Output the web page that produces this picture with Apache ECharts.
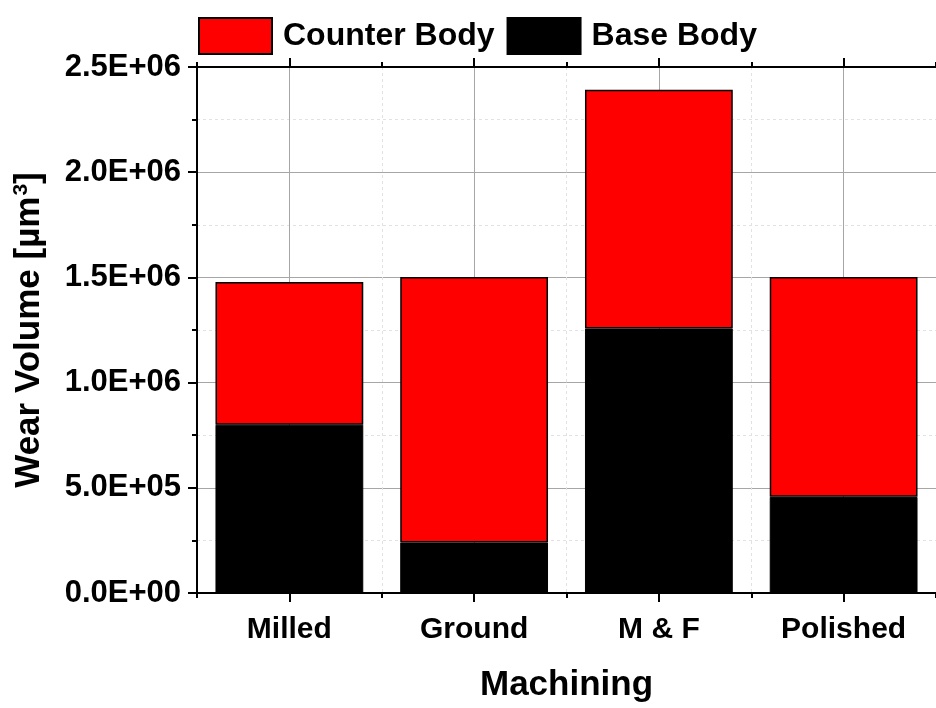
<!DOCTYPE html>
<html>
<head>
<meta charset="utf-8">
<script src="https://cdn.jsdelivr.net/npm/echarts@6/dist/echarts.min.js"></script>
<style>
  html, body { margin: 0; padding: 0; background: #fff; }
  #chart { width: 936px; height: 708px; }
</style>
</head>
<body>
<div id="chart"></div>
<script>
// Wear volume per machining process, split into base body and counter body
const categories = ['Milled', 'Ground', 'M & F', 'Polished'];
const baseBody = [800000, 240000, 1257000, 457000];
const counterBody = [678000, 1262000, 1135000, 1045000];
const yTicks = { min: 0, max: 2500000, step: 500000 };

const FONT = 'Liberation Sans, Arial, sans-serif';
const gridColor = '#a6a6a6';
const minorGridColor = '#e2e2e2';

function sci(v) {
  const [m, e] = v.toExponential(1).split('e');
  const n = parseInt(e, 10);
  const s = n < 0 ? '-' : '+';
  return m + 'E' + s + String(Math.abs(n)).padStart(2, '0');
}

const chart = echarts.init(document.getElementById('chart'));
chart.setOption({
  animation: false,
  backgroundColor: '#fff',
  textStyle: { fontFamily: FONT },
  legend: {
    data: ['Counter Body', 'Base Body'],
    icon: 'rect',
    left: 193,
    top: 12,
    itemWidth: 73,
    itemHeight: 36,
    itemGap: 12,
    textStyle: { fontFamily: FONT, fontWeight: 'bold', fontSize: 32, color: '#000', padding: [0, 0, 0, 6] }
  },
  grid: { left: 197, right: 0, top: 67, bottom: 110, containLabel: false },
  xAxis: [
    {
      type: 'category',
      data: categories,
      position: 'bottom',
      axisLine: { show: true, lineStyle: { color: '#000', width: 2 } },
      axisTick: { show: false },
      splitLine: { show: false },
      axisLabel: { fontFamily: FONT, fontWeight: 'bold', fontSize: 30, color: '#000', margin: 22 },
      name: 'Machining',
      nameLocation: 'middle',
      nameGap: 75,
      nameTextStyle: { fontFamily: FONT, fontWeight: 'bold', fontSize: 35, color: '#000' },
      z: 5
    },
    {
      // grid lines and ticks: boundaries between groups and group centres
      type: 'value',
      min: 0, max: categories.length, interval: 1,
      position: 'bottom',
      axisLine: { show: false },
      axisLabel: { show: false },
      axisTick: { show: true, length: 5, lineStyle: { color: '#000', width: 2 } },
      minorTick: { show: true, splitNumber: 2, length: 9, lineStyle: { color: '#000', width: 2 } },
      splitLine: { show: true, lineStyle: { color: minorGridColor, type: [3, 3], width: 1 } },
      minorSplitLine: { show: true, lineStyle: { color: gridColor, width: 1 } },
      z: 0
    },
    {
      type: 'value',
      min: 0, max: categories.length, interval: 1,
      position: 'top',
      axisLine: { show: true, onZero: false, lineStyle: { color: '#000', width: 2 } },
      axisLabel: { show: false },
      axisTick: { show: true, length: 5, lineStyle: { color: '#000', width: 2 } },
      minorTick: { show: true, splitNumber: 2, length: 9, lineStyle: { color: '#000', width: 2 } },
      splitLine: { show: false },
      z: 5
    }
  ],
  yAxis: {
    type: 'value',
    min: yTicks.min,
    max: yTicks.max,
    interval: yTicks.step,
    axisLine: { show: true, lineStyle: { color: '#000', width: 2 } },
    axisTick: { show: true, length: 9, lineStyle: { color: '#000', width: 2 } },
    minorTick: { show: true, splitNumber: 2, length: 5, lineStyle: { color: '#000', width: 2 } },
    splitLine: { show: true, lineStyle: { color: gridColor, width: 1 } },
    minorSplitLine: { show: true, lineStyle: { color: minorGridColor, type: [3, 3], width: 1 } },
    axisLabel: { fontFamily: FONT, fontWeight: 'bold', fontSize: 31, color: '#000', margin: 16, formatter: sci },
    name: 'Wear Volume [µm{sup|3}]',
    nameLocation: 'middle',
    nameRotate: 90,
    nameGap: 150,
    nameTextStyle: {
      fontFamily: FONT, fontWeight: 'bold', fontSize: 35, color: '#000',
      rich: {
        sup: { fontFamily: FONT, fontWeight: 'bold', fontSize: 21, color: '#000', verticalAlign: 'top', padding: [0, 0, 15, 1] }
      }
    },
    z: 0
  },
  series: [
    {
      name: 'Base Body',
      type: 'bar',
      stack: 'wear',
      xAxisIndex: 0,
      barWidth: '80%',
      data: baseBody,
      z: 3,
      itemStyle: { color: '#000', borderColor: '#000', borderWidth: 1 }
    },
    {
      name: 'Counter Body',
      type: 'bar',
      stack: 'wear',
      xAxisIndex: 0,
      barWidth: '80%',
      data: counterBody,
      z: 3,
      itemStyle: { color: '#ff0000', borderColor: '#000', borderWidth: 1.5 }
    }
  ]
});
</script>
</body>
</html>
